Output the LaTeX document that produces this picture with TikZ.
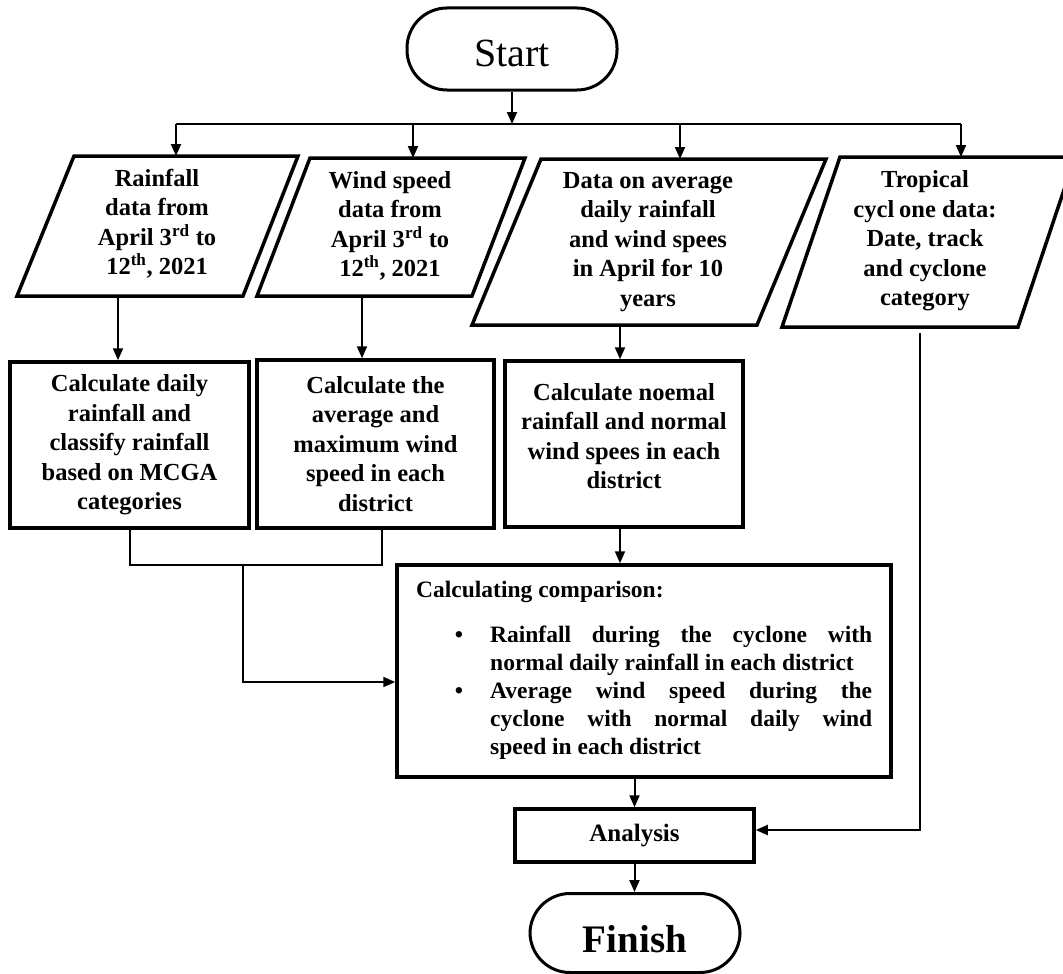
\documentclass[tikz,border=0pt]{standalone}
\usepackage{fontspec}
\setmainfont{Liberation Serif}
\usetikzlibrary{arrows.meta,calc}
\begin{document}
\begin{tikzpicture}[x=1pt,y=-1pt]
\tikzset{
  conn/.style={line width=2pt,-{Triangle[length=12pt,width=10pt]}},
  plain/.style={line width=2pt},
  boxstyle/.style={draw,line width=3.5pt,rectangle,inner sep=0pt},
  paral/.style={draw,line width=3.5pt,line join=miter},
  term/.style={draw,line width=3pt,rectangle,rounded corners=40pt,minimum width=210pt,minimum height=82pt,inner sep=0pt},
  txt/.style={align=center,inner sep=0pt,font=\fontsize{24.5}{29.5}\selectfont\bfseries}
}
\useasboundingbox (0,0) rectangle (1063,974);

% terminals
\node[term,text height=35pt,text depth=0pt,font=\fontsize{40}{46}\selectfont] (start) at (512,49) {Start};
\node[term,minimum height=79pt,text height=39pt,text depth=0pt,font=\fontsize{39}{46}\selectfont\bfseries] (finish) at (635,933) {Finish};

% parallelograms
\draw[paral] (17,296) -- (243,296) -- (298,156) -- (74,156) -- cycle;
\draw[paral] (257,296) -- (472,296) -- (525,158) -- (310,158) -- cycle;
\draw[paral] (472,325) -- (757,325) -- (826,159) -- (541,159) -- cycle;
\draw[paral] (782,327) -- (1018,327) -- (1075,157) -- (840,157) -- cycle;
\node[txt] (p1) at (157,224) {Rainfall\\data from\\April 3\textsuperscript{rd} to\\12\textsuperscript{th}, 2021};
\node[txt] (p2) at (390,226) {Wind speed\\data from\\April 3\textsuperscript{rd} to\\12\textsuperscript{th}, 2021};
\node[txt] (p3) at (648,242) {Data on average\\daily rainfall\\and wind spees\\in April for 10\\years};
\node[txt] (p4) at (925,241) {Tropical\\cycl\hspace{0.2em}one data:\\Date, track\\and cyclone\\category};

\coordinate (p1in) at (176,156);
\coordinate (p2in) at (413,158);
\coordinate (p3in) at (680,159);
\coordinate (p4in) at (961,157);
\coordinate (p1out) at (118,296);
\coordinate (p2out) at (362,296);
\coordinate (p3out) at (620,325);
\coordinate (p4out) at (920,333);

% process boxes
\node[boxstyle,txt,minimum width=239pt,minimum height=166pt] (r1) at (129.5,445) {Calculate daily\\rainfall and\\classify rainfall\\based on MCGA\\categories};
\node[boxstyle,txt,minimum width=237pt,minimum height=168pt] (r2) at (375.5,444) {Calculate the\\average and\\maximum wind\\speed in each\\district};
\node[boxstyle,minimum width=238pt,minimum height=166pt] (r3) at (624,444) {};
\node[txt] (r3t) at (624,436) {Calculate noemal\\rainfall and normal\\wind spees in each\\district};

\node[boxstyle,minimum width=494pt,minimum height=212pt] (c) at (644,671) {};
\node[inner sep=0pt,anchor=north west,font=\fontsize{23.5}{28}\selectfont\bfseries] (ct) at (416,581) {%
\begin{minipage}{456pt}\hyphenpenalty=10000\parindent=0pt
Calculating comparison:\par\vspace{17pt}
\noindent\hangindent=74pt\hangafter=0\llap{\textbullet\hspace{27pt}}Rainfall during the cyclone with\linebreak normal daily rainfall in each district\par
\noindent\hangindent=74pt\hangafter=0\llap{\textbullet\hspace{27pt}}Average wind speed during the\linebreak cyclone with normal daily wind\linebreak speed in each district\par
\end{minipage}};

\node[boxstyle,txt,font=\fontsize{25}{29}\selectfont\bfseries,minimum width=239pt,minimum height=53pt] (an) at (634.5,835.5) {Analysis};

% connectors
\coordinate (split) at (512,124);
\draw[conn] (start.south) -- (split);
\draw[plain] (176,124) -- (961,124);
\draw[conn] (p1in |- split) -- (p1in);
\draw[conn] (p2in |- split) -- (p2in);
\draw[conn] (p3in |- split) -- (p3in);
\draw[conn] (p4in |- split) -- (p4in);

\draw[conn] (p1out) -- (p1out |- r1.north);
\draw[conn] (p2out) -- (p2out |- r2.north);
\draw[conn] (p3out) -- (p3out |- r3.north);

\coordinate (m1) at (130,565);
\coordinate (m2) at (382,565);
\coordinate (m3) at (243,565);
\coordinate (m4) at (243,682);
\draw[plain] (m1 |- r1.south) -- (m1) -- (m2) -- (m2 |- r2.south);
\draw[conn] (m3) -- (m4) -- (m4 -| c.west);
\draw[conn] (p3out |- r3.south) -- (p3out |- c.north);

\draw[conn] (c.south -| an.north) -- (an.north);
\draw[conn] (an.south) -- (an.south |- finish.north);
\coordinate (t4) at (920,830);
\draw[conn] (p4out) -- (t4) -- (t4 -| an.east);
\end{tikzpicture}
\end{document}
